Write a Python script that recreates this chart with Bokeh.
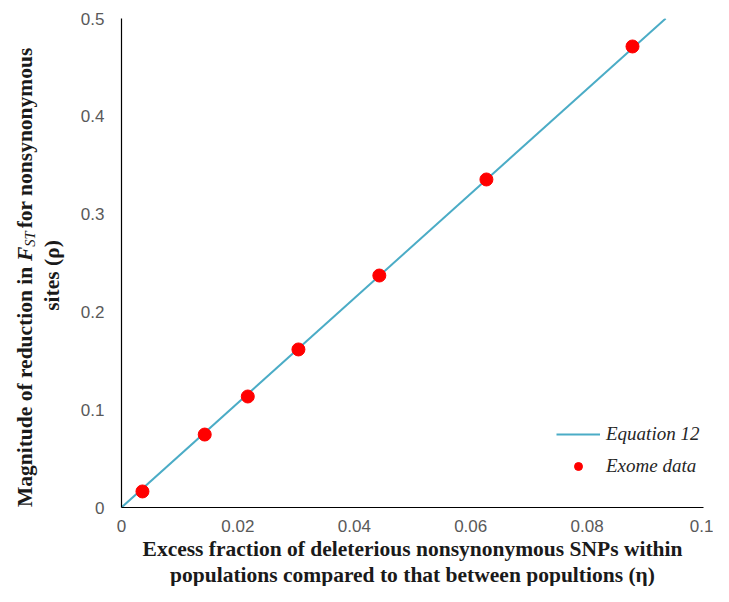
import math
from bokeh.plotting import figure
from bokeh.models import Label, Legend, LegendItem, Range1d, FixedTicker, Title
from bokeh.layouts import row
from bokeh.embed import file_html
from bokeh.resources import INLINE

# Data
exome_eta = [0.0036, 0.0143, 0.0217, 0.0304, 0.0443, 0.0627, 0.0878]
exome_rho = [0.0164, 0.0746, 0.1135, 0.1616, 0.2372, 0.3354, 0.4714]
eq_eta = [0.0, 0.0935]
eq_rho = [0.0, 0.5]
x_ticks = [0, 0.02, 0.04, 0.06, 0.08, 0.1]
y_ticks = [0, 0.1, 0.2, 0.3, 0.4, 0.5]
x_tick_labels = {0: "0", 0.02: "0.02", 0.04: "0.04", 0.06: "0.06", 0.08: "0.08", 0.1: "0.1"}
y_tick_labels = {0: "0", 0.1: "0.1", 0.2: "0.2", 0.3: "0.3", 0.4: "0.4", 0.5: "0.5"}
x_title_1 = "Excess fraction of deleterious nonsynonymous SNPs within"
x_title_2 = "populations compared to that between popultions (\u03b7)"
y_title_parts = ["Magnitude of reduction in ", "F", "ST", " for nonsynonymous"]
y_title_2 = "sites (\u03c1)"

W, H = 713, 586
LW = 70                      # width of the strip holding the y title
FL, FR, FT, FB = 121, 703, 18, 507   # frame edges in page pixels

title_font = "Liberation Serif"
fs = 21.5

# ---- main plot ----
p = figure(width=W - LW, height=H, output_backend="svg", toolbar_location=None,
           x_range=Range1d(0, 0.1), y_range=Range1d(0, 0.5),
           min_border_left=FL - LW, min_border_right=W - FR,
           min_border_top=FT, min_border_bottom=H - FB)
p.outline_line_color = None
p.grid.grid_line_color = None
p.background_fill_color = "white"

for ax, ticks, labels, standoff in ((p.xaxis[0], x_ticks, x_tick_labels, 12),
                                    (p.yaxis[0], y_ticks, y_tick_labels, 17)):
    ax.ticker = FixedTicker(ticks=ticks)
    ax.major_label_overrides = labels
    ax.major_tick_line_color = None
    ax.minor_tick_line_color = None
    ax.major_tick_out = 0
    ax.major_tick_in = 0
    ax.axis_line_color = "black"
    ax.axis_line_width = 1.2
    ax.major_label_text_font = "Liberation Sans"
    ax.major_label_text_font_size = "17px"
    ax.major_label_text_color = "#595959"
    ax.major_label_standoff = standoff

for txt in (x_title_1, x_title_2):
    p.add_layout(Title(text=txt, align="center", offset=8, standoff=0,
                       text_font=title_font, text_font_style="bold",
                       text_font_size=f"{fs}px", text_color="#1a1a1a"), "below")

line_r = p.line(eq_eta, eq_rho, line_color="#4BACC6", line_width=2)
pts_r = p.scatter(exome_eta, exome_rho, size=13, fill_color="#FF0000", line_color="#FF0000")

legend = Legend(items=[LegendItem(label="Equation 12", renderers=[line_r]),
                       LegendItem(label="Exome data", renderers=[pts_r])],
                location=(435, 30), padding=0, margin=0, border_line_color=None,
                background_fill_alpha=0, glyph_width=44, glyph_height=20,
                label_height=20, spacing=10, label_standoff=6,
                label_text_font="Liberation Serif", label_text_font_style="italic",
                label_text_font_size="19px", label_text_color="#262626")
p.add_layout(legend, "center")

# ---- strip with the rotated y title (frame aligned with the main frame) ----
t = figure(width=LW, height=H, output_backend="svg", toolbar_location=None,
           x_range=Range1d(0, LW), y_range=Range1d(H - FB, H - FT),
           x_axis_type=None, y_axis_type=None,
           min_border_left=0, min_border_right=0,
           min_border_top=FT, min_border_bottom=H - FB)
t.outline_line_color = None
t.grid.grid_line_color = None

def add_label(text, x, page_y, align="center", style="bold", size=fs):
    t.add_layout(Label(x=x, y=H - page_y, text=text, angle=math.pi / 2,
                       text_align=align, text_baseline="middle",
                       text_font=title_font, text_font_style=style,
                       text_font_size=f"{size}px", text_color="#1a1a1a"))

k = fs / 1000.0
sub = 14.5
wA = 11445 * k
wF = 667 * k
wST = 1056 * sub / 1000.0 + 3
total = wA + wF + wST + 8668 * k
start = 274 + total / 2
add_label(y_title_parts[0], 24, start, align="left")
add_label(y_title_parts[1], 24, start - wA, align="left", style="bold italic")
add_label(y_title_parts[2], 29, start - wA - wF, align="left", style="italic", size=sub)
add_label(y_title_parts[3], 24, start - wA - wF - wST, align="left")
add_label(y_title_2, 51, 275)

layout = row(t, p)
open("out.html", "w").write(file_html(layout, INLINE))
